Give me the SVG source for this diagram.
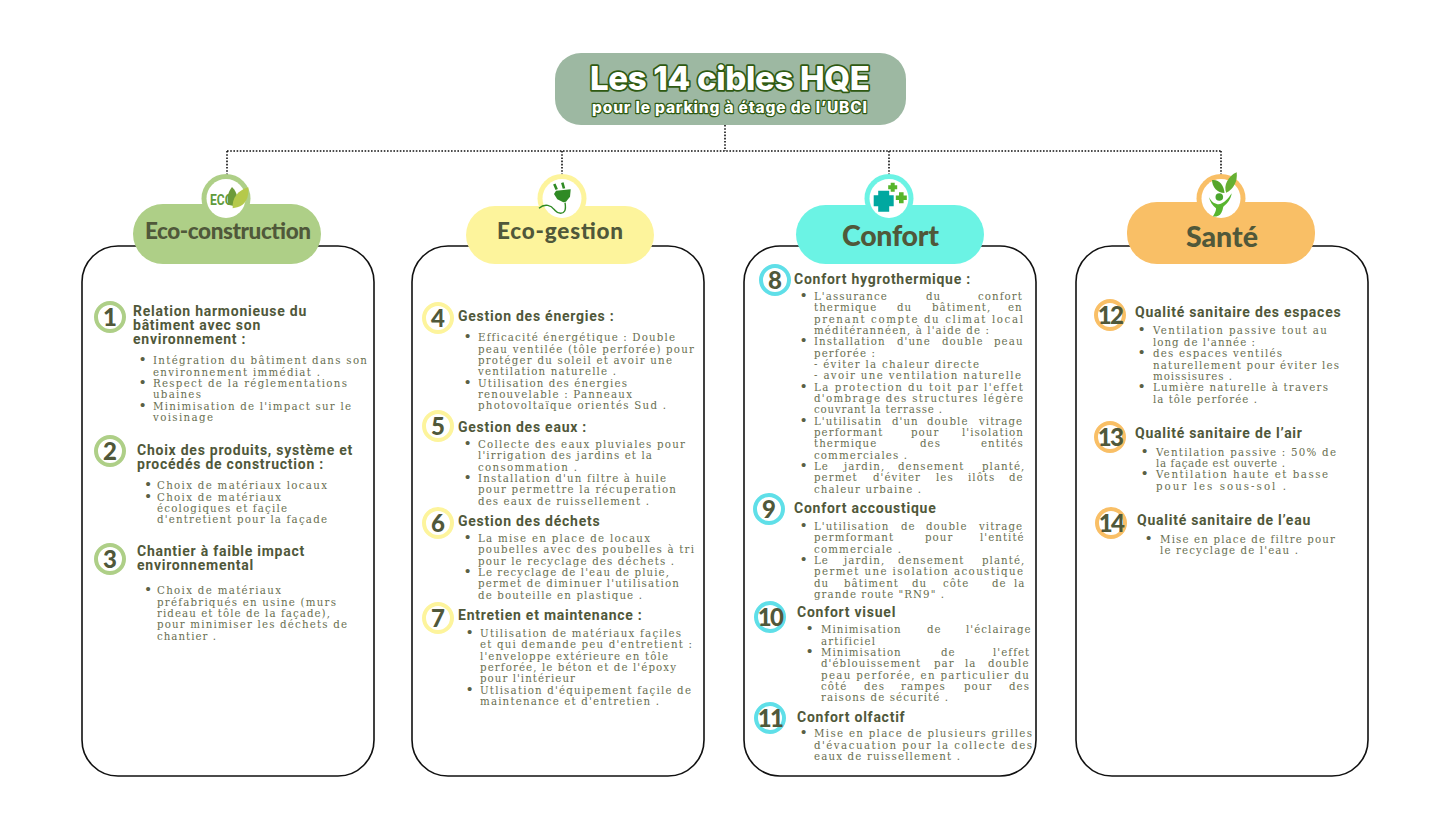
<svg xmlns="http://www.w3.org/2000/svg" width="1450" height="816" viewBox="0 0 1450 816">
<style>
.panel{fill:#fff;stroke:#111;stroke-width:1.6}
.b{font-family:"DejaVu Serif",serif;font-stretch:condensed;font-size:11.4px;letter-spacing:1.05px;fill:#686e50}
.k{font:15px "Liberation Sans",sans-serif;fill:#5a6044}
.h{font:700 14px Roboto,sans-serif;letter-spacing:.75px;fill:#50583a}
.n{font:900 24px Lato,sans-serif;fill:#50583a;text-anchor:middle}
.m{letter-spacing:-1.6px}
.p{font:900 22.5px Lato,sans-serif;fill:#50583a;text-anchor:middle}
.q{font-size:28.5px}
.ring{fill:#fff;stroke-width:4}
.g1{stroke:#aecf87}.g2{stroke:#fdf49c}.g3{stroke:#5fdfe8}.g4{stroke:#f9bf66}
.t{font-family:Inter,sans-serif;font-weight:800;fill:#fff;stroke:#2f5a12;paint-order:stroke;stroke-linejoin:round;text-anchor:middle}
</style>
<g id="connectors" fill="none" stroke="#111" stroke-width="1.6" stroke-dasharray="1.6 1.6">
<path d="M725 125V151"/><path d="M227 151H1221"/><path d="M227 151V176"/><path d="M562 151V176"/><path d="M889 151V176"/><path d="M1221 151V176"/>
</g>
<g id="title">
<rect x="555" y="53" width="351" height="72" rx="26" fill="#9db8a2"/>
<text class="t" x="730" y="90" font-size="33" stroke-width="3.400" textLength="280">Les 14 cibles HQE</text>
<text class="t" x="729.500" y="113" font-size="15.500" stroke-width="2.400" textLength="275">pour le parking à étage de l’UBCI</text>
</g>

<g id="eco-construction">
<rect class="panel" x="82" y="246" width="292" height="530" rx="36"/>
<circle cx="226" cy="198.500" r="24.500" fill="#aecf87"/>
<rect x="133" y="204" width="188" height="60" rx="30" fill="#aecf87"/>
<circle cx="226" cy="198.500" r="19.500" fill="#fff"/>
<text x="210" y="204.500" font-family="Roboto,sans-serif" font-weight="700" font-size="15.500" fill="#5f9a3c" textLength="23" lengthAdjust="spacingAndGlyphs">ECO</text>
<path d="M232 187c-4 5-6 12-3 18l5 1c5-5 4-13-2-19z" fill="#6d9b3a"/>
<path d="M232.700 208.300c-1-10 5-18 15.600-21 1 10-3 18-11 20z" fill="#b5c94b"/>
<text class="p" x="228" y="239" textLength="166">Eco-construction</text>
<circle class="ring g1" cx="110" cy="317" r="14"/><text class="n" x="110" y="326">1</text>
<circle class="ring g1" cx="110" cy="451" r="14"/><text class="n" x="110" y="460">2</text>
<circle class="ring g1" cx="110" cy="559" r="14"/><text class="n" x="110" y="568">3</text>
<text class="h"><tspan x="133" y="316">Relation harmonieuse du</tspan><tspan x="133" y="330">bâtiment avec son</tspan><tspan x="133" y="344">environnement :</tspan></text>
<text class="k" x="140" y="364">•</text><text class="b" x="153" y="364" textLength="215">Intégration du bâtiment dans son</text>
<text class="b" x="153" y="375.500" textLength="168">environnement immédiat .</text>
<text class="k" x="140" y="387">•</text><text class="b" x="153" y="387" textLength="195">Respect de la réglementations</text>
<text class="b" x="153" y="398" textLength="49">ubaines</text>
<text class="k" x="140" y="409.500">•</text><text class="b" x="153" y="409.500" textLength="199">Minimisation de l'impact sur le</text>
<text class="b" x="153" y="421" textLength="61">voisinage</text>
<text class="h"><tspan x="137" y="455">Choix des produits, système et</tspan><tspan x="137" y="469">procédés de construction :</tspan></text>
<text class="k" x="145.500" y="489">•</text><text class="b" x="157" y="489" textLength="171">Choix de matériaux locaux</text>
<text class="k" x="145.500" y="500.500">•</text><text class="b" x="157" y="500.500" textLength="125">Choix de matériaux</text>
<text class="b" x="157" y="512" textLength="131">écologiques et façile</text>
<text class="b" x="157" y="523" textLength="171">d'entretient pour la façade</text>
<text class="h"><tspan x="137" y="556">Chantier à faible impact</tspan><tspan x="137" y="570">environnemental</tspan></text>
<text class="k" x="145.500" y="594">•</text><text class="b" x="157" y="594" textLength="125">Choix de matériaux</text>
<text class="b" x="157" y="605.500" textLength="180">préfabriqués en usine (murs</text>
<text class="b" x="157" y="617" textLength="174">rideau et tôle de la façade),</text>
<text class="b" x="157" y="628" textLength="191">pour minimiser les déchets de</text>
<text class="b" x="157" y="640" textLength="60">chantier .</text>
</g>

<g id="eco-gestion">
<rect class="panel" x="412" y="246" width="292" height="530" rx="36"/>
<circle cx="562" cy="198.500" r="24.500" fill="#fdf49c"/>
<rect x="466" y="206" width="188" height="58" rx="29" fill="#fdf49c"/>
<circle cx="562" cy="198.500" r="19.500" fill="#fff"/>
<path d="M556.700 189.500l-2.400-5.500M564 188.500l-1.700-5.800" fill="none" stroke="#2f8a24" stroke-width="2.600"/>
<path d="M556 190.700l14.700-1.400-.700 7.400-4 5-2.700.6-6-3-3.300-5.300z" fill="#2f8a24"/>
<path d="M565 202.700c1.500 8-1 10.600-4.300 10.600-4 0-4.700-2-6.700-4-2.500-3.600-9-6.500-15-1" fill="none" stroke="#2f8a24" stroke-width="1.400"/>
<text class="p" x="560" y="239" textLength="126">Eco-gestion</text>
<circle class="ring g2" cx="438" cy="318" r="14"/><text class="n" x="438" y="327">4</text>
<circle class="ring g2" cx="438" cy="426" r="14"/><text class="n" x="438" y="435">5</text>
<circle class="ring g2" cx="438" cy="523" r="14"/><text class="n" x="438" y="532">6</text>
<circle class="ring g2" cx="438" cy="618" r="14"/><text class="n" x="438" y="627">7</text>
<text class="h" x="458" y="321">Gestion des énergies :</text>
<text class="k" x="465" y="341">•</text><text class="b" x="478" y="341" textLength="198">Efficacité énergétique : Double</text>
<text class="b" x="478" y="352.500" textLength="217">peau ventilée (tôle perforée) pour</text>
<text class="b" x="478" y="364" textLength="195">protéger du soleil et avoir une</text>
<text class="b" x="478" y="375" textLength="139">ventilation naturelle .</text>
<text class="k" x="465" y="386.500">•</text><text class="b" x="478" y="386.500" textLength="150">Utilisation des énergies</text>
<text class="b" x="478" y="398" textLength="155">renouvelable : Panneaux</text>
<text class="b" x="478" y="409" textLength="189">photovoltaïque orientés Sud .</text>
<text class="h" x="458" y="432">Gestion des eaux :</text>
<text class="k" x="465" y="448">•</text><text class="b" x="478" y="448" textLength="208">Collecte des eaux pluviales pour</text>
<text class="b" x="478" y="459" textLength="175">l'irrigation des jardins et la</text>
<text class="b" x="478" y="470.500" textLength="100">consommation .</text>
<text class="k" x="465" y="481.700">•</text><text class="b" x="478" y="481.700" textLength="189">Installation d'un filtre à huile</text>
<text class="b" x="478" y="493" textLength="199">pour permettre la récuperation</text>
<text class="b" x="478" y="504.500" textLength="172">des eaux de ruissellement .</text>
<text class="h" x="458" y="526">Gestion des déchets</text>
<text class="k" x="465" y="541.500">•</text><text class="b" x="478" y="541.500" textLength="173">La mise en place de locaux</text>
<text class="b" x="478" y="553" textLength="217">poubelles avec des poubelles à tri</text>
<text class="b" x="478" y="564.500" textLength="197">pour le recyclage des déchets .</text>
<text class="k" x="465" y="576">•</text><text class="b" x="478" y="576" textLength="192">Le recyclage de l'eau de pluie,</text>
<text class="b" x="478" y="587" textLength="202">permet de diminuer l'utilisation</text>
<text class="b" x="478" y="598.500" textLength="165">de bouteille en plastique .</text>
<text class="h" x="458" y="620">Entretien et maintenance :</text>
<text class="k" x="467" y="636.700">•</text><text class="b" x="480" y="636.700" textLength="202">Utilisation de matériaux façiles</text>
<text class="b" x="480" y="648" textLength="213">et qui demande peu d'entretient :</text>
<text class="b" x="480" y="659.500" textLength="189">l'enveloppe extérieure en tôle</text>
<text class="b" x="480" y="671" textLength="197">perforée, le béton et de l'époxy</text>
<text class="b" x="480" y="682" textLength="96">pour l'intérieur</text>
<text class="k" x="467" y="693.500">•</text><text class="b" x="480" y="693.500" textLength="212">Utlisation d'équipement façile de</text>
<text class="b" x="480" y="705" textLength="180">maintenance et d'entretien .</text>
</g>

<g id="confort">
<rect class="panel" x="744" y="246" width="292" height="530" rx="36"/>
<circle cx="889" cy="198.500" r="24.500" fill="#6bf3e4"/>
<rect x="796" y="205" width="188" height="59" rx="29.500" fill="#6bf3e4"/>
<circle cx="889" cy="198.500" r="19.500" fill="#fff"/>
<path d="M878.200 190.700h11v4.500h4.500v11h-4.500v5.500h-11v-5.500h-4.500v-11h4.500z" fill="#00a8a0"/>
<path d="M890.700 182.800h4v2.500h2.500v4h-2.500v2.500h-4v-2.500h-2.500v-4h2.500z" fill="#55b52a"/>
<path d="M899 192.200h4.600v3.200h3.200v4.600h-3.200v3.200h-4.600v-3.200h-3.200v-4.600h3.200z" fill="#55b52a"/>
<text class="p q" x="890.500" y="246" textLength="97">Confort</text>
<circle class="ring g3" cx="775" cy="280" r="14"/><text class="n" x="775" y="289">8</text>
<circle class="ring g3" cx="769" cy="509" r="14"/><text class="n" x="769" y="518">9</text>
<circle class="ring g3" cx="770" cy="617" r="14"/><text class="n m" x="770" y="626">10</text>
<circle class="ring g3" cx="770" cy="718" r="14"/><text class="n m" x="770" y="727">11</text>
<text class="h" x="794" y="284">Confort hygrothermique :</text>
<text class="k" x="801" y="300">•</text><text class="b" y="300"><tspan x="814">L'assurance</tspan><tspan x="926">du</tspan><tspan x="978">confort</tspan></text>
<text class="b" y="311"><tspan x="814">thermique</tspan><tspan x="897">du</tspan><tspan x="932">bâtiment,</tspan><tspan x="1008">en</tspan></text>
<text class="b" x="814" y="322.500" textLength="210">prenant compte du climat local</text>
<text class="b" x="814" y="334" textLength="176">méditérannéen, à l'aide de :</text>
<text class="k" x="801" y="345">•</text><text class="b" y="345"><tspan x="814">Installation</tspan><tspan x="897">d'une</tspan><tspan x="942">double</tspan><tspan x="994">peau</tspan></text>
<text class="b" x="814" y="356.500" textLength="62">perforée :</text>
<text class="b" x="814" y="368" textLength="166">- éviter la chaleur directe</text>
<text class="b" x="814" y="379" textLength="208">- avoir une ventilation naturelle</text>
<text class="k" x="801" y="390.500">•</text><text class="b" x="814" y="390.500" textLength="210">La protection du toit par l'effet</text>
<text class="b" x="814" y="402" textLength="210">d'ombrage des structures légère</text>
<text class="b" x="814" y="413" textLength="129">couvrant la terrasse .</text>
<text class="k" x="801" y="424.500">•</text><text class="b" y="424.500"><tspan x="814">L'utilisatin</tspan><tspan x="892">d'un</tspan><tspan x="927">double</tspan><tspan x="979">vitrage</tspan></text>
<text class="b" y="436"><tspan x="814">performant</tspan><tspan x="911">pour</tspan><tspan x="962">l'isolation</tspan></text>
<text class="b" y="447"><tspan x="814">thermique</tspan><tspan x="920">des</tspan><tspan x="981">entités</tspan></text>
<text class="b" x="814" y="458.500" textLength="94">commerciales .</text>
<text class="k" x="801" y="470">•</text><text class="b" y="470"><tspan x="814">Le</tspan><tspan x="844">jardin,</tspan><tspan x="898">densement</tspan><tspan x="982">planté,</tspan></text>
<text class="b" y="481"><tspan x="814">permet</tspan><tspan x="873">d'éviter</tspan><tspan x="936">les</tspan><tspan x="968">ilôts</tspan><tspan x="1009">de</tspan></text>
<text class="b" x="814" y="492.500" textLength="108">chaleur urbaine .</text>
<text class="h" x="794" y="513">Confort accoustique</text>
<text class="k" x="801" y="530">•</text><text class="b" y="530"><tspan x="814">L'utilisation</tspan><tspan x="901">de</tspan><tspan x="926">double</tspan><tspan x="979">vitrage</tspan></text>
<text class="b" y="541"><tspan x="814">permformant</tspan><tspan x="925">pour</tspan><tspan x="980">l'entité</tspan></text>
<text class="b" x="814" y="552.500" textLength="88">commerciale .</text>
<text class="k" x="801" y="564">•</text><text class="b" y="564"><tspan x="814">Le</tspan><tspan x="844">jardin,</tspan><tspan x="898">densement</tspan><tspan x="982">planté,</tspan></text>
<text class="b" x="814" y="575" textLength="210">permet une isolation acoustique</text>
<text class="b" y="586.500"><tspan x="814">du</tspan><tspan x="844">bâtiment</tspan><tspan x="912">du</tspan><tspan x="943">côte</tspan><tspan x="992">de</tspan><tspan x="1014">la</tspan></text>
<text class="b" x="814" y="598" textLength="131">grande route "RN9" .</text>
<text class="h" x="797" y="617">Confort visuel</text>
<text class="k" x="807" y="633">•</text><text class="b" y="633"><tspan x="821">Minimisation</tspan><tspan x="927">de</tspan><tspan x="966">l'éclairage</tspan></text>
<text class="b" x="821" y="644.500" textLength="55">artificiel</text>
<text class="k" x="807" y="656">•</text><text class="b" y="656"><tspan x="821">Minimisation</tspan><tspan x="941">de</tspan><tspan x="993">l'effet</tspan></text>
<text class="b" y="667"><tspan x="821">d'éblouissement</tspan><tspan x="934">par</tspan><tspan x="965">la</tspan><tspan x="988">double</tspan></text>
<text class="b" x="821" y="678.500" textLength="209">peau perforée, en particulier du</text>
<text class="b" y="690"><tspan x="821">côté</tspan><tspan x="864">des</tspan><tspan x="901">rampes</tspan><tspan x="964">pour</tspan><tspan x="1009">des</tspan></text>
<text class="b" x="821" y="701" textLength="128">raisons de sécurité .</text>
<text class="h" x="797" y="722">Confort olfactif</text>
<text class="k" x="801" y="737">•</text><text class="b" x="814" y="737" textLength="219">Mise en place de plusieurs grilles</text>
<text class="b" x="814" y="748.500" textLength="219">d'évacuation pour la collecte des</text>
<text class="b" x="814" y="760" textLength="147">eaux de ruissellement .</text>
</g>

<g id="sante">
<rect class="panel" x="1076" y="246" width="292" height="530" rx="36"/>
<circle cx="1221" cy="198.500" r="24.500" fill="#f9bf66"/>
<rect x="1127" y="202" width="188" height="62" rx="30" fill="#f9bf66"/>
<circle cx="1221" cy="198.500" r="19.500" fill="#fff"/>
<path d="M1212 180c7-1 12 5 12.500 13-7 0-12.500-6-12.500-13z" fill="#55a52a"/>
<path d="M1236.700 172.300c1 9-3 17-10.500 20.500-3-7 2-17 10.500-20.500z" fill="#66b032"/>
<circle cx="1219.300" cy="197" r="3.800" fill="#4aa52e"/>
<path d="M1209 197.300c3 5 6 7 10 7 5-1 9.500-6 12.700-11-1 6-4 10-8.400 13.400-1 5-2.500 8-5 9-2 1-4 1-5.500.8 2-3 3.500-6 3.200-8.200-3.500-2.500-6-6.500-7-11z" fill="#58b52f"/>
<text class="p q" x="1222" y="247" textLength="72">Santé</text>
<circle class="ring g4" cx="1110" cy="315" r="14"/><text class="n m" x="1110" y="324">12</text>
<circle class="ring g4" cx="1110" cy="437" r="14"/><text class="n m" x="1110" y="446">13</text>
<circle class="ring g4" cx="1111" cy="523" r="14"/><text class="n m" x="1111" y="532">14</text>
<text class="h" x="1135" y="316.700">Qualité sanitaire des espaces</text>
<text class="k" x="1139" y="334">•</text><text class="b" x="1153" y="334" textLength="175">Ventilation passive tout au</text>
<text class="b" x="1153" y="345.500" textLength="103">long de l'année :</text>
<text class="k" x="1139" y="357">•</text><text class="b" x="1153" y="357" textLength="130">des espaces ventilés</text>
<text class="b" x="1153" y="368.500" textLength="187">naturellement pour éviter les</text>
<text class="b" x="1153" y="380" textLength="80">moissisures .</text>
<text class="k" x="1139" y="391">•</text><text class="b" x="1153" y="391" textLength="176">Lumière naturelle à travers</text>
<text class="b" x="1153" y="402.500" textLength="105">la tôle perforée .</text>
<text class="h" x="1135" y="438">Qualité sanitaire de l’air</text>
<text class="k" x="1142" y="456">•</text><text class="b" x="1156" y="456" textLength="181">Ventilation passive : 50% de</text>
<text class="b" x="1156" y="467" textLength="130">la façade est ouverte .</text>
<text class="k" x="1142" y="478">•</text><text class="b" x="1156" y="478" textLength="173">Ventilation haute et basse</text>
<text class="b" x="1156" y="489.500" textLength="131">pour les sous-sol .</text>
<text class="h" x="1137" y="525">Qualité sanitaire de l’eau</text>
<text class="k" x="1146" y="543">•</text><text class="b" x="1160" y="543" textLength="176">Mise en place de filtre pour</text>
<text class="b" x="1160" y="554" textLength="139">le recyclage de l'eau .</text>
</g>
</svg>
